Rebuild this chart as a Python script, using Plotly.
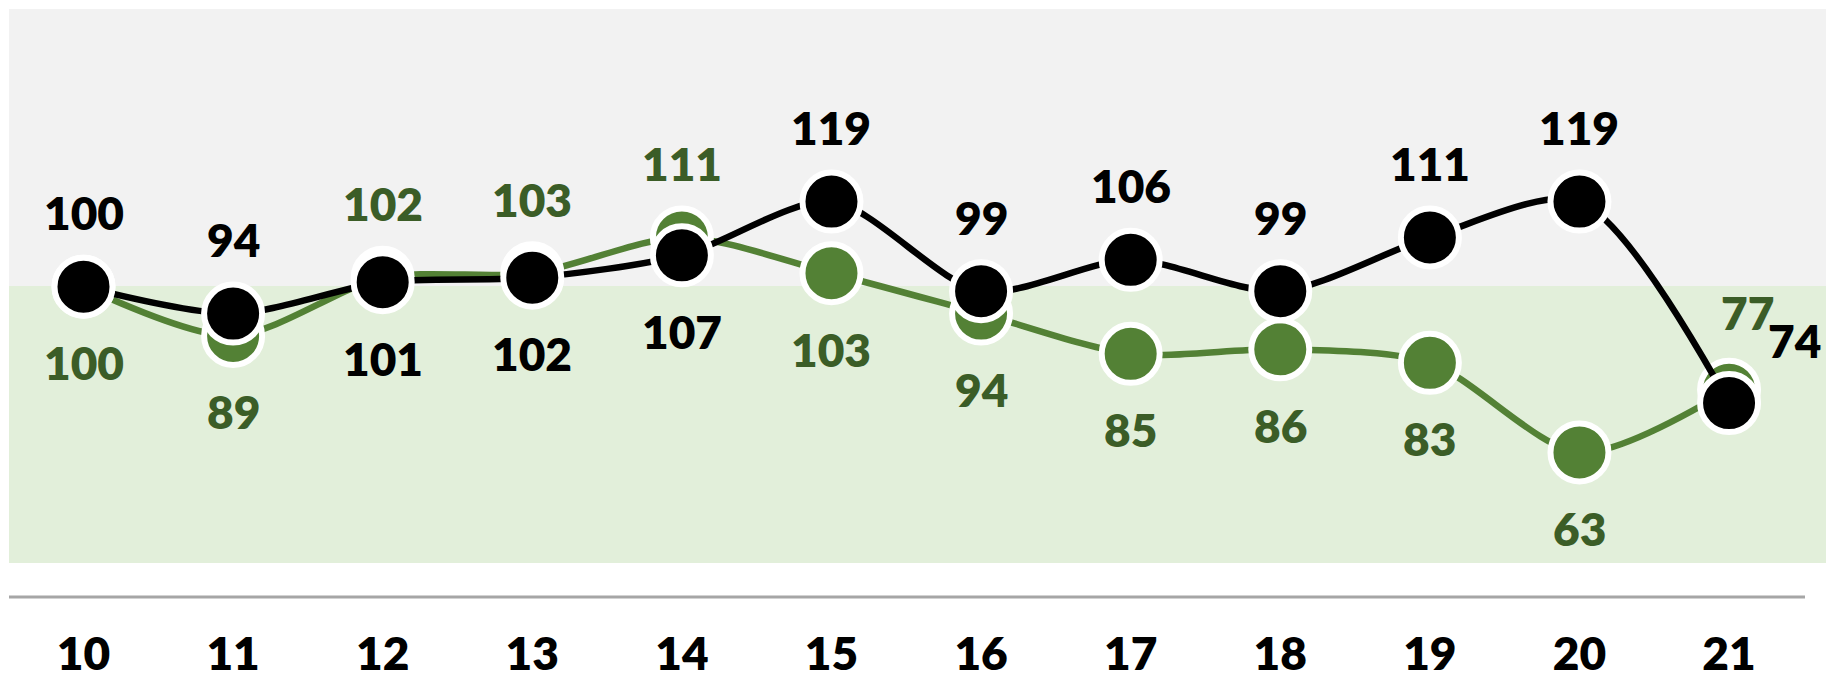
import plotly.graph_objects as go

# ---- data ----
categories = ["10", "11", "12", "13", "14", "15", "16", "17", "18", "19", "20", "21"]
black_values = [100, 94, 101, 102, 107, 119, 99, 106, 99, 111, 119, 74]
green_values = [100, 89, 102, 103, 111, 103, 94, 85, 86, 83, 63, 77]

# ---- styles ----
BLACK = "#000000"
GREEN = "#538135"
GREEN_TEXT = "#3b5d27"
GRAY_BAND = "#f2f2f2"
GREEN_BAND = "#e2efda"
AXIS_GRAY = "#a6a6a6"
FONT = "Lato"
FSIZE = 46

W, H = 1826, 682
L, R, T, B = 9, 0, 9, 119

fig = go.Figure()

for vals, col in ((green_values, GREEN), (black_values, BLACK)):
    fig.add_trace(go.Scatter(
        x=categories, y=vals, mode="lines+markers",
        line=dict(color=col, width=6.5, shape="spline", smoothing=0.8),
        marker=dict(size=58, color=col, line=dict(color="white", width=6)),
        hoverinfo="skip", showlegend=False, cliponaxis=False,
    ))

# value labels (annotation x given as category index)
ABOVE, BELOW = 74, -76
n = len(categories)
for i, (b, g) in enumerate(zip(black_values, green_values)):
    if i == n - 1:
        specs = [(g, GREEN_TEXT, 18, 77), (b, BLACK, 65, 63)]
    elif b >= g:
        specs = [(b, BLACK, 0, ABOVE), (g, GREEN_TEXT, 0, BELOW)]
    else:
        specs = [(g, GREEN_TEXT, 0, ABOVE), (b, BLACK, 0, BELOW)]
    for v, col, dx, dy in specs:
        fig.add_annotation(
            x=i, y=v, text=str(v), showarrow=False,
            xshift=dx, yshift=dy, xanchor="center", yanchor="middle",
            font=dict(family=FONT, size=FSIZE, color=col, weight=800),
        )

# background bands
fig.add_shape(type="rect", xref="paper", yref="paper", x0=0, x1=1, y0=0.5, y1=1,
              fillcolor=GRAY_BAND, line_width=0, layer="below")
fig.add_shape(type="rect", xref="paper", yref="paper", x0=0, x1=1, y0=0, y1=0.5,
              fillcolor=GREEN_BAND, line_width=0, layer="below")
# separator axis line
plot_h = H - T - B
plot_w = W - L - R
sep_y = -(597 - (H - B)) / plot_h
fig.add_shape(type="line", xref="paper", yref="paper",
              x0=0, x1=(1805 - L) / plot_w, y0=sep_y, y1=sep_y,
              line=dict(color=AXIS_GRAY, width=3))

fig.update_layout(
    width=W, height=H,
    margin=dict(l=L, r=R, t=T, b=B, pad=0, autoexpand=False),
    paper_bgcolor="white", plot_bgcolor="rgba(0,0,0,0)",
    font=dict(family=FONT, size=FSIZE, color=BLACK),
    xaxis=dict(
        type="category", range=[-0.498, 11.648], automargin=False,
        showgrid=False, zeroline=False, showline=False,
        ticks="outside", ticklen=0, tickcolor="rgba(0,0,0,0)",
        ticklabelstandoff=51,
        tickfont=dict(family=FONT, size=FSIZE, color=BLACK, weight=800),
    ),
    yaxis=dict(
        range=[38.3, 162.0], visible=False, showgrid=False, zeroline=False,
        automargin=False,
    ),
)

fig.write_html(
    "out.html",
    config={"displayModeBar": False},
    post_script="document.body.style.margin='0';document.body.style.overflow='hidden';",
)
